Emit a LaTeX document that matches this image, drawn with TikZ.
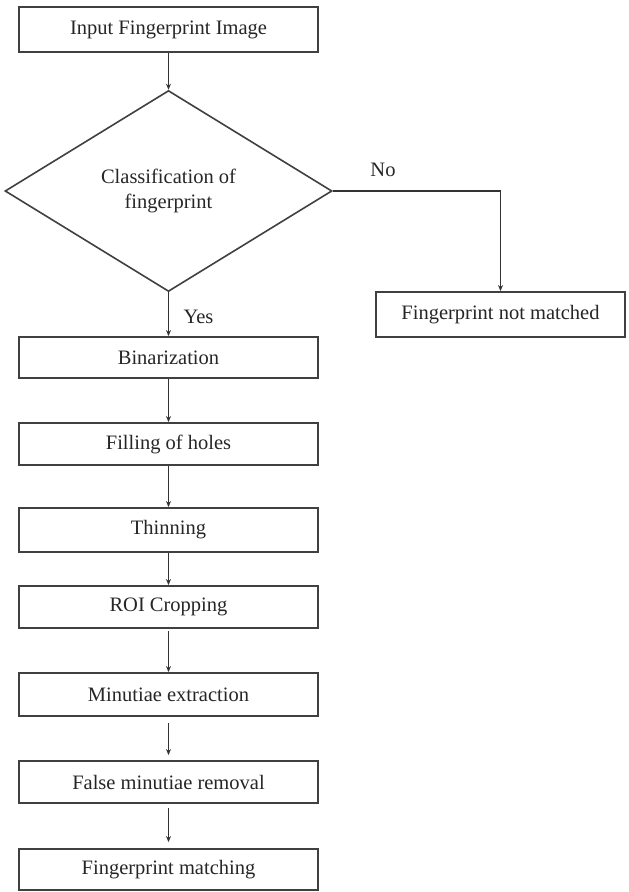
\documentclass[tikz,border=0pt]{standalone}
\usepackage{fontspec}
\setmainfont{Liberation Serif}
\usetikzlibrary{shapes.geometric,arrows.meta}
\begin{document}
\begin{tikzpicture}[x=1pt,y=-1pt,
  every node/.style={font=\fontsize{20.5}{25}\selectfont, text=black!85},
  procbox/.style={draw=black!75, line width=1.9pt, rectangle, inner sep=0pt, minimum width=299pt},
  decbox/.style={draw=black!75, line width=1.6pt, diamond, inner sep=0pt, align=center, minimum width=327pt, minimum height=201pt},
  flow/.style={draw=black!80, line width=1.6pt, -{Stealth[length=6pt,width=5pt]}},
  lbl/.style={inner sep=0pt}]
\useasboundingbox (0,0) rectangle (629,892);
\node[procbox, minimum height=45pt] (in) at (168.5,29.5) {Input Fingerprint Image};
\node[decbox] (cls) at (168.5,191) {Classification of\\fingerprint};
\node[procbox, minimum width=249pt, minimum height=45pt] (nm) at (500.5,314.5) {Fingerprint not matched};
\node[procbox, minimum height=41pt] (bin) at (168.5,357.5) {Binarization};
\node[procbox, minimum height=42pt] (fill) at (168.5,444) {Filling of holes};
\node[procbox, minimum height=44pt] (thin) at (168.5,530) {Thinning};
\node[procbox, minimum height=42pt] (roi) at (168.5,607) {ROI Cropping};
\node[procbox, minimum height=43pt] (min) at (168.5,694.5) {Minutiae extraction};
\node[procbox, minimum height=42pt] (fmr) at (168.5,782) {False minutiae removal};
\node[procbox, minimum height=41pt] (fm) at (168.5,869.5) {Fingerprint matching};
\node[lbl] (yes) at (198.5,317) {Yes};
\node[lbl] (no) at (383,170) {No};
\coordinate (corner) at (nm.north |- cls.east);
\draw[flow] (in) -- (cls);
\draw[flow] (cls) -- (bin);
\draw[flow] (cls.east) -- (corner) -- (nm.north);
\draw[flow] (bin) -- (fill);
\draw[flow] (fill) -- (thin);
\draw[flow] (thin) -- (roi);
\draw[flow, shorten <=2pt] (roi) -- (min);
\draw[flow, shorten <=6pt, shorten >=5pt] (min) -- (fmr);
\draw[flow, shorten <=4pt, shorten >=6pt] (fmr) -- (fm);
\end{tikzpicture}
\end{document}
